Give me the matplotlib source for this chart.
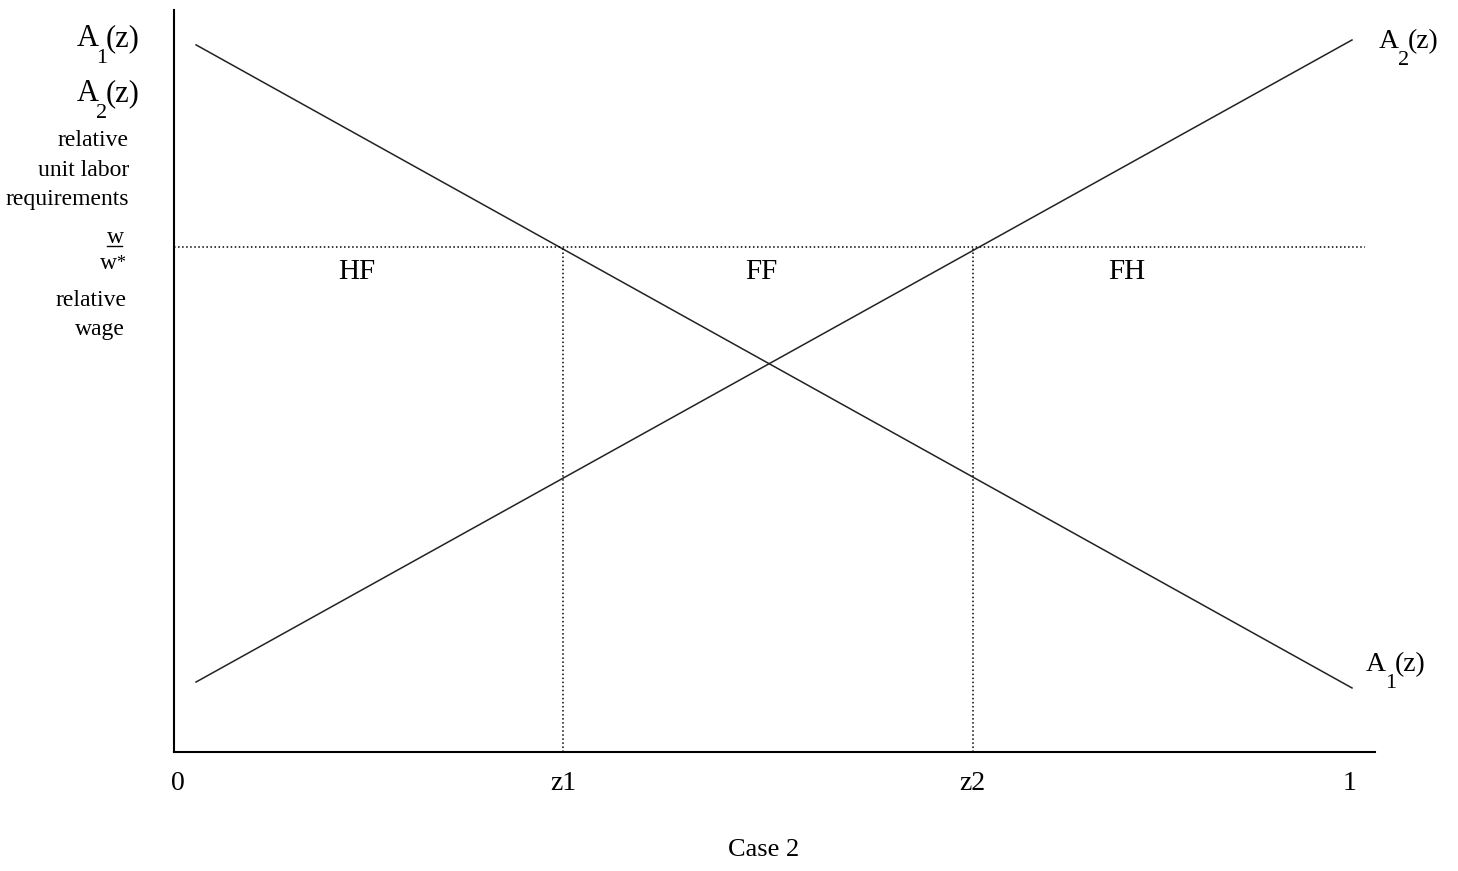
import matplotlib
matplotlib.use('Agg')
from matplotlib import pyplot as plt

plt.rcParams['font.family'] = ['Liberation Serif', 'DejaVu Serif']

# line end points (x in [0,1], y relative)
a1_x = [0.0154, 1.0017]
a1_y = [0.953, 0.0863]
a2_x = [0.0154, 1.0017]
a2_y = [0.0943, 0.9596]
wage = 0.680
z1 = 0.3285
z2 = 0.678
tick_pos = [0, z1, z2, 1]
tick_labels = ['0', 'z1', 'z2', '1']
regions = ['HF', 'FF', 'FH']
region_x = [0.1527, 0.4974, 0.8097]

W, H = 1458, 871

def fx(x):
	return x / W

def fy(y):
	return 1 - y / H

# A with a low subscript tucked under the parenthesis, positions in pixels
def draw_a(fig, x, y, sub, size=22, sub_size=16):
	fig.text(fx(x), fy(y), 'A', ha='left', va='baseline', fontsize=size)
	fig.text(fx(x + 25), fy(y + 17), sub, ha='center', va='baseline', fontsize=sub_size)
	fig.text(fx(x + 29), fy(y), '(z)', ha='left', va='baseline', fontsize=size)

fig = plt.figure(figsize=(W / 100, H / 100), dpi=100)
ax = fig.add_axes([fx(174), fy(752), fx(1375 - 174), (752 - 10) / H])
ax.set_xlim(-4 / 1172, (1375 - 178) / 1172)
ax.set_ylim(0, 1)

for side in ['top', 'right']:
	ax.spines[side].set_visible(False)
for side in ['left', 'bottom']:
	ax.spines[side].set_linewidth(1.5)

ax.plot(a1_x, a1_y, color='#222222', lw=1.1)
ax.plot(a2_x, a2_y, color='#222222', lw=1.1)

# relative wage and cut-off lines
ax.plot([ax.get_xlim()[0], (1365 - 178) / 1172], [wage, wage], color='black', lw=1.1, ls=':')
ax.plot([z1, z1], [0, wage], color='black', lw=1.1, ls=':')
ax.plot([z2, z2], [0, wage], color='black', lw=1.1, ls=':')

for name, x in zip(regions, region_x):
	ax.text(x, 0.647, name, ha='center', va='center', fontsize=21)

ax.set_xticks(tick_pos)
ax.set_xticklabels(tick_labels, fontsize=20)
ax.tick_params(axis='x', length=0, pad=14)
ax.set_yticks([])

# curve names on the right
draw_a(fig, 1379, 48, '2', size=20, sub_size=16)
draw_a(fig, 1366, 671, '1', size=20, sub_size=16)

# y axis description on the left
draw_a(fig, 77, 46, '1')
draw_a(fig, 77, 101, '2')
for txt, y in [('relative', 140), ('unit labor', 170), ('requirements', 200)]:
	fig.text(fx(129), fy(y), txt, ha='right', va='center', fontsize=17)
fig.text(fx(115), fy(243), 'w', ha='center', va='baseline', fontsize=17)
fig.add_artist(plt.Line2D([fx(107), fx(122)], [fy(246), fy(246)], color='black', lw=1.0))
fig.text(fx(117), fy(269), 'w', ha='right', va='baseline', fontsize=17)
fig.text(fx(116), fy(268), '*', ha='left', va='baseline', fontsize=13)
fig.text(fx(127), fy(300), 'relative', ha='right', va='center', fontsize=17)
fig.text(fx(125), fy(329), 'wage', ha='right', va='center', fontsize=17)

fig.text(fx(764), fy(850), 'Case 2', ha='center', va='center', fontsize=19)

fig.savefig('out.png', dpi=100)
